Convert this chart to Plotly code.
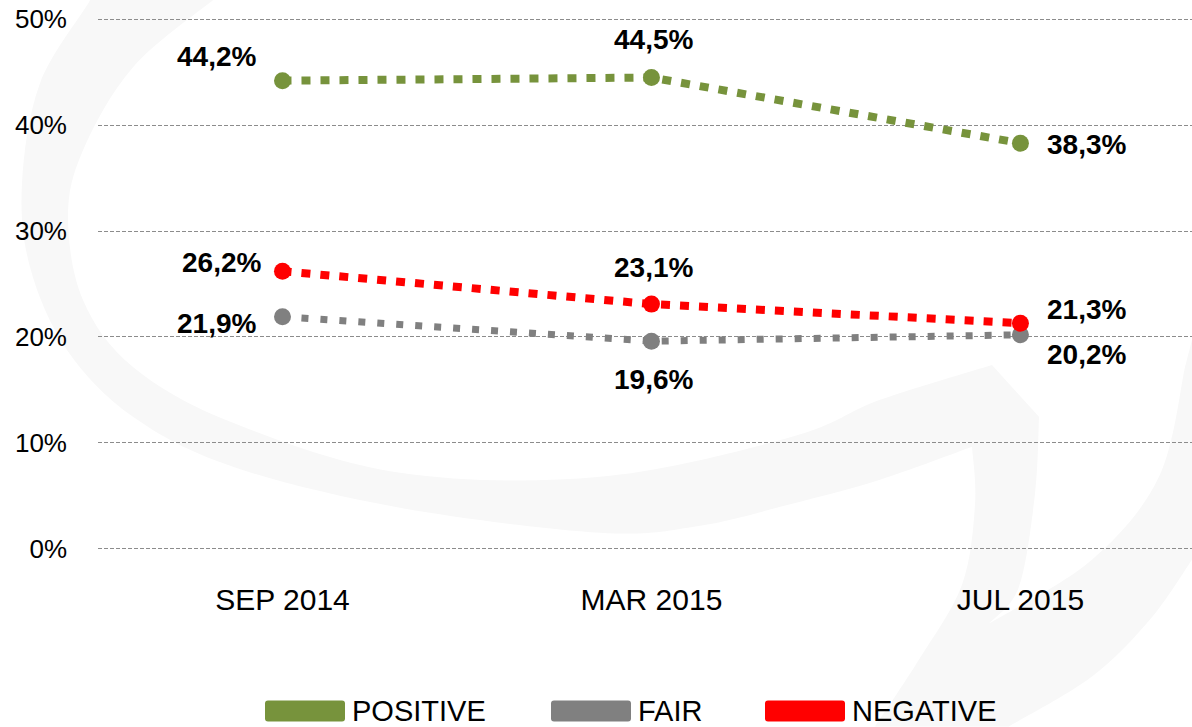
import plotly.graph_objects as go

categories = ["SEP 2014", "MAR 2015", "JUL 2015"]
series_names = ["POSITIVE", "FAIR", "NEGATIVE"]
positive = [44.2, 44.5, 38.3]
fair = [21.9, 19.6, 20.2]
negative = [26.2, 23.1, 21.3]
y_ticks = [0, 10, 20, 30, 40, 50]
y_ticktext = [f"{v}%" for v in y_ticks]

colors = ["#77933C", "#808080", "#FF0000"]
line_widths = [8, 7, 8]
dashes = ["9px,10px", "7px,12px", "9px,10px"]
# label offsets (pixels) per series, per point
label_shifts = [
    [(-66, 24), (2, 38), (66, -1)],
    [(-66, -7), (2, -38), (66, -20)],
    [(-61, 9), (2, 37), (66, 14)],
]

series = [positive, fair, negative]

W_FIG, H_FIG = 1192, 727
M_L, M_R, M_T, M_B = 98, 0, 17.7, 176.7
PLOT_W = W_FIG - M_L - M_R
PLOT_H = H_FIG - M_T - M_B


def px(xp):
    return (xp - M_L) / PLOT_W


def py(yp):
    return (H_FIG - M_B - yp) / PLOT_H


def pt(p):
    return f"{px(p[0]):.5f},{py(p[1]):.5f}"


def smooth(points):
    """Catmull-Rom chain as cubic Bezier commands (without the initial move)."""
    out = []
    n = len(points)
    for i in range(n - 1):
        p0 = points[i - 1] if i > 0 else points[i]
        p1 = points[i]
        p2 = points[i + 1]
        p3 = points[i + 2] if i + 2 < n else points[i + 1]
        c1 = (p1[0] + (p2[0] - p0[0]) / 6, p1[1] + (p2[1] - p0[1]) / 6)
        c2 = (p2[0] - (p3[0] - p1[0]) / 6, p2[1] - (p3[1] - p1[1]) / 6)
        out.append(f"C {pt(c1)} {pt(c2)} {pt(p2)}")
    return " ".join(out)


fig = go.Figure()
for name, vals, c, lw, d in zip(series_names, series, colors, line_widths, dashes):
    fig.add_trace(go.Scatter(
        x=categories, y=vals, name=name, mode="lines+markers",
        line=dict(color=c, width=lw, dash=d),
        marker=dict(color=c, size=17),
        showlegend=False, hoverinfo="skip",
    ))

annotations = []
for vals, shifts in zip(series, label_shifts):
    for cat, v, (dx, dy) in zip(categories, vals, shifts):
        annotations.append(dict(
            x=cat, y=v, xref="x", yref="y", showarrow=False,
            text=f"<b>{v:.1f}".replace(".", ",") + "%</b>",
            xshift=dx, yshift=dy,
            font=dict(family="Liberation Sans, Arial", size=28, color="#000000"),
        ))

shapes = []

# faint background watermark swirl (decorative)
outer_main = [(90, -10), (90, 0), (40, 83), (22, 183), (30, 267), (67, 350), (133, 417),
              (233, 467), (400, 508), (600, 533), (700, 526), (792, 504), (880, 480), (972, 447)]
stroke_left = [(972, 447), (975, 505), (962, 585), (919, 660), (875, 727)]
right_outer = [(1009, 727), (1092, 677), (1150, 620), (1192, 560)]
right_inner = [(1185, 367), (1159, 477), (1092, 560), (989, 624)]
stroke_right = [(989, 624), (1019, 587), (1035, 494), (1039, 417)]
inner_main = [(992, 365), (880, 400), (792, 437), (600, 477), (400, 473), (233, 423),
              (133, 367), (83, 300), (68, 217), (83, 150), (133, 67), (213, 0), (230, -10)]

swirl_path = (
    f"M {pt(outer_main[0])} " + smooth(outer_main) + " "
    + smooth(stroke_left) + f" L {pt(right_outer[0])} " + smooth(right_outer)
    + f" L {pt((1192, 340))} L {pt(right_inner[0])} " + smooth(right_inner) + " "
    + smooth(stroke_right) + f" L {pt(inner_main[0])} " + smooth(inner_main) + " Z"
)
shapes.append(dict(type="path", xref="paper", yref="paper", path=swirl_path,
                   fillcolor="#F8F8F8", line=dict(width=0), layer="below"))

# manual legend
legend_x = [265, 551, 765]
for name, c, lx in zip(series_names, colors, legend_x):
    x0, x1 = px(lx), px(lx + 80)
    y0, y1 = py(722), py(701)
    r = 3 / PLOT_W
    ry = 3 / PLOT_H
    path = (f"M {x0+r},{y0} L {x1-r},{y0} Q {x1},{y0} {x1},{y0+ry} L {x1},{y1-ry} "
            f"Q {x1},{y1} {x1-r},{y1} L {x0+r},{y1} Q {x0},{y1} {x0},{y1-ry} "
            f"L {x0},{y0+ry} Q {x0},{y0} {x0+r},{y0} Z")
    shapes.append(dict(type="path", xref="paper", yref="paper", path=path,
                       fillcolor=c, line=dict(width=0)))
    annotations.append(dict(
        x=px(lx + 85), y=py(711), xref="paper", yref="paper", showarrow=False,
        text=name, xanchor="left", yanchor="middle",
        font=dict(family="Liberation Sans, Arial", size=29, color="#000000"),
    ))

fig.update_layout(
    width=W_FIG, height=H_FIG,
    margin=dict(l=M_L, r=M_R, t=M_T, b=M_B, autoexpand=False),
    paper_bgcolor="#FFFFFF", plot_bgcolor="rgba(0,0,0,0)",
    annotations=annotations, shapes=shapes,
    showlegend=False, hovermode=False,
)
fig.update_xaxes(
    type="category", range=[-0.5, 2.465], showgrid=False, showline=False,
    zeroline=False, ticks="",
    tickfont=dict(family="Liberation Sans, Arial", size=30, color="#000000"),
    ticklabelstandoff=29,
)
fig.update_yaxes(
    range=[-0.12, 50.12], tickvals=y_ticks, ticktext=y_ticktext, showgrid=True,
    gridcolor="#8C8C8C", gridwidth=1, griddash="4px,2px", zeroline=False,
    showline=False, ticks="", ticklabelstandoff=30,
    tickfont=dict(family="Liberation Sans, Arial", size=26, color="#000000"),
)

fig.write_html("out.html", config={"displayModeBar": False},
               post_script="document.body.style.margin='0';")
